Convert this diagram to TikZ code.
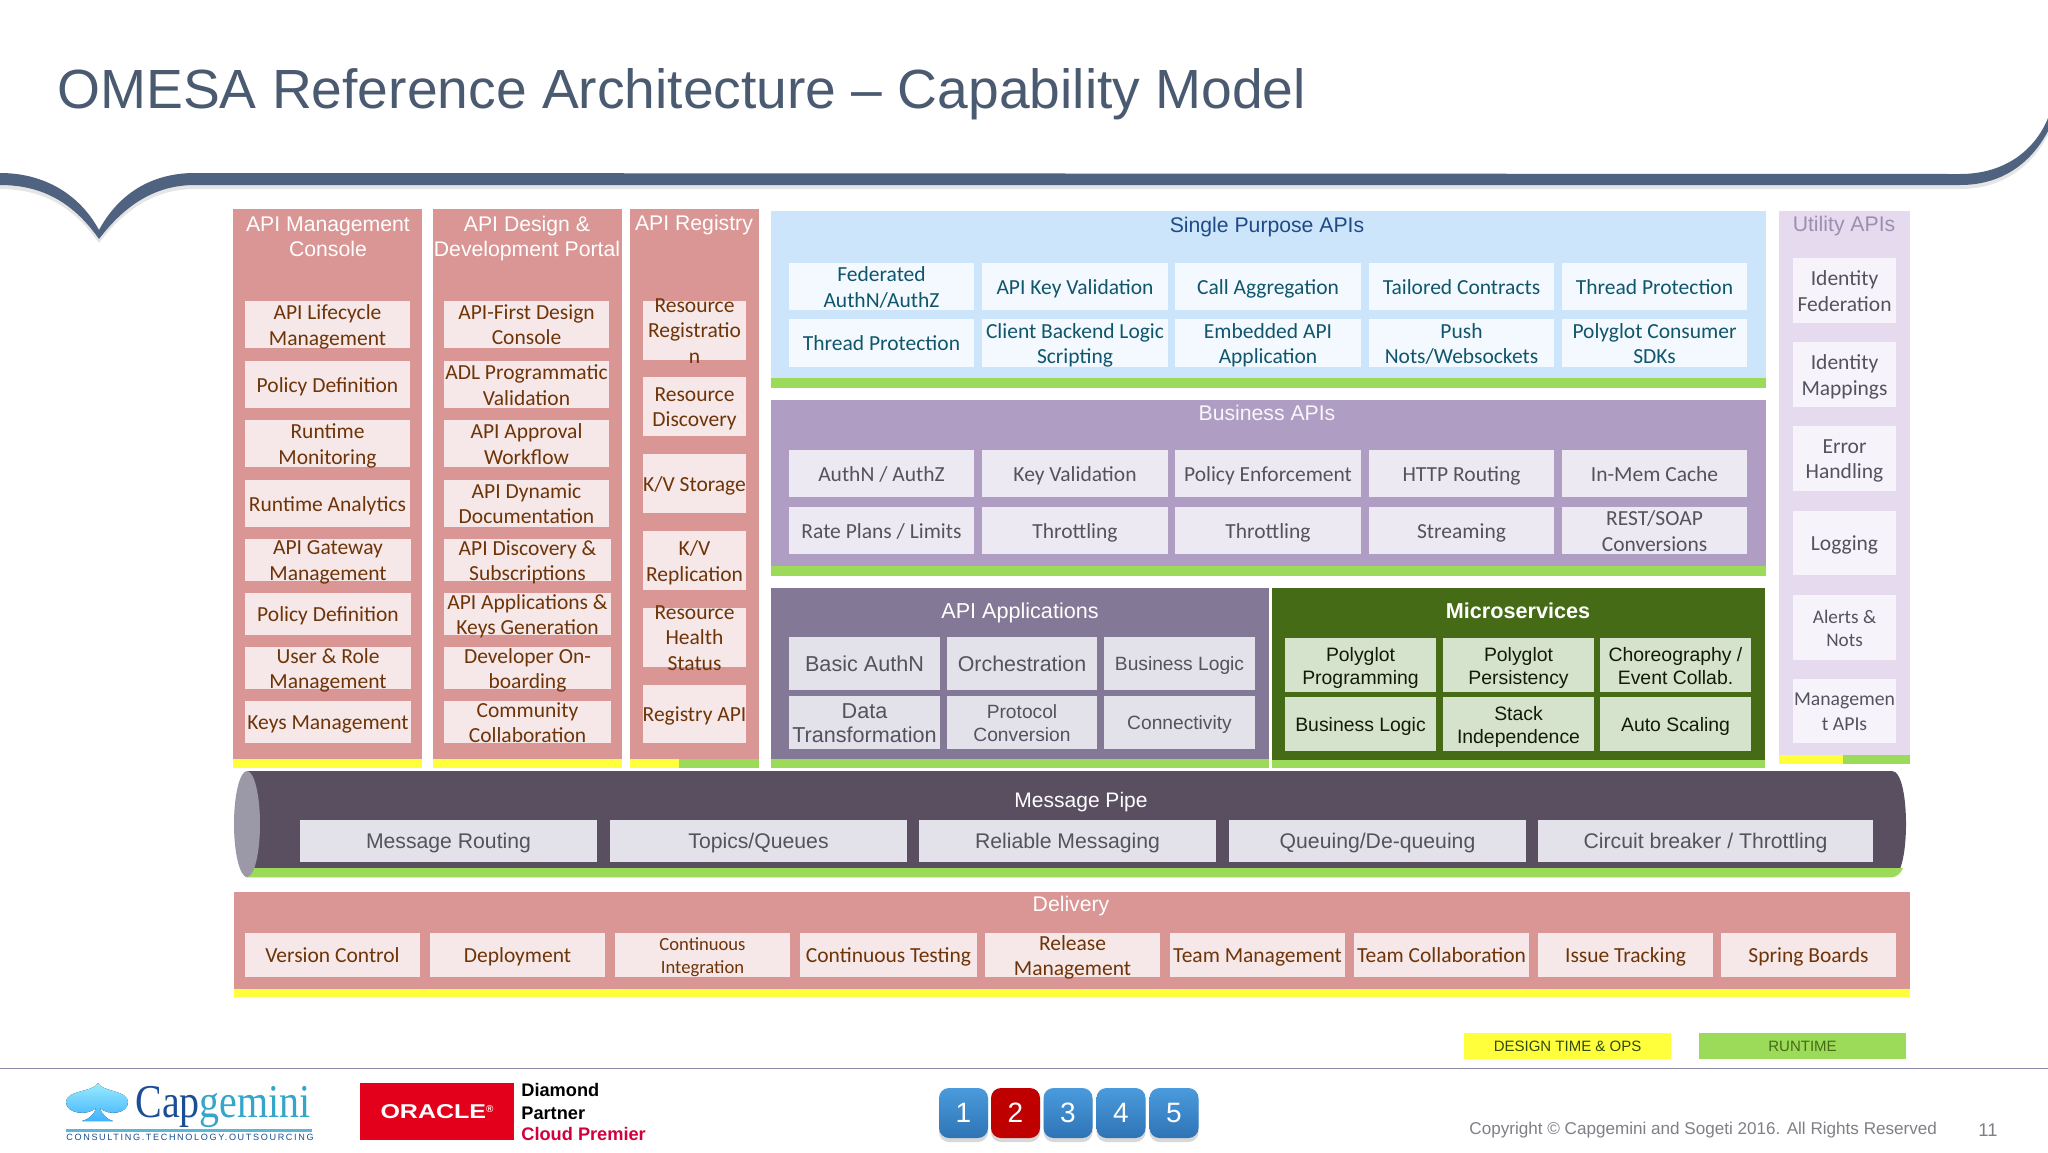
\documentclass[tikz,border=0pt]{standalone}
\usepackage{fontspec}
\setmainfont{Liberation Sans}
\newfontfamily\calfont{Carlito}
\newfontfamily\logoserif{Liberation Serif}
\newfontfamily\logospaced[LetterSpace=18]{Liberation Sans}
\usetikzlibrary{shadows}
\usepackage{xcolor}
\definecolor{omesaslate}{HTML}{4A5A70}
\definecolor{omesaswoosh}{HTML}{4F6280}
\definecolor{omesapink}{HTML}{D99694}
\definecolor{omesapinkcell}{HTML}{F6E8E8}
\definecolor{omesabrown}{HTML}{6E3408}
\definecolor{omesayellow}{HTML}{FFFF3C}
\definecolor{omesagreen}{HTML}{9CDA5A}
\definecolor{omesasky}{HTML}{CDE5FB}
\definecolor{omesaskycell}{HTML}{F3F9FE}
\definecolor{omesateal}{HTML}{0F566C}
\definecolor{omesanavy}{HTML}{1F4A86}
\definecolor{omesaviolet}{HTML}{AF9DC4}
\definecolor{omesavioletcell}{HTML}{EDE9F2}
\definecolor{omesaplum}{HTML}{837895}
\definecolor{omesaplumcell}{HTML}{E3E1E9}
\definecolor{omesamoss}{HTML}{466B17}
\definecolor{omesamosscell}{HTML}{D5E2CC}
\definecolor{omesapipe}{HTML}{5A4F61}
\definecolor{omesapipecap}{HTML}{9B99A8}
\definecolor{omesalilac}{HTML}{E6DAEE}
\definecolor{omesalilaccell}{HTML}{F7F3FA}
\definecolor{omesagrey}{HTML}{55525F}
\definecolor{omesapage}{HTML}{7F7F87}
\definecolor{omesarule}{HTML}{8A88A8}
\definecolor{omesacap}{HTML}{1C4E96}
\definecolor{omesagemini}{HTML}{35A5C9}
\definecolor{omesaoracle}{HTML}{E2001A}
\definecolor{omesacloud}{HTML}{D2003C}
\definecolor{omesabuttontop}{HTML}{4A9BDD}
\definecolor{omesabuttonlow}{HTML}{2E74B5}
\tikzset{
  basetext/.style={align=center, inner sep=0pt, yshift=-1.25pt,
    execute at begin node=\strut, execute at end node=\strut},
  morelines/.style={yshift=-0.85pt},
  headtext/.style={basetext, text=white, font=\fontsize{10.6}{12.5}\selectfont},
  calibritext/.style={basetext, font=\calfont\fontsize{10.75}{12.7}\selectfont},
  pinktext/.style={calibritext, text=omesabrown},
  skytext/.style={calibritext, text=omesateal},
  violettext/.style={calibritext, text=omesagrey},
  lilactext/.style={calibritext, text=omesagrey},
  plumtext/.style={basetext, text=omesagrey, font=\fontsize{9.6}{11.7}\selectfont},
  mosstext/.style={basetext, text=black!75!omesamoss, font=\fontsize{9.7}{11.7}\selectfont},
  pipetext/.style={basetext, text=omesagrey, font=\fontsize{10.6}{13}\selectfont},
  legendtext/.style={basetext, yshift=0.5pt, font=\fontsize{7.5}{9}\selectfont},
  pagetext/.style={basetext, text=omesapage, font=\fontsize{8.55}{11}\selectfont},
  partnertext/.style={inner sep=0pt, anchor=west, font=\bfseries\fontsize{9.1}{11}\selectfont},
  numberbutton/.style={rounded corners=5pt, minimum width=24.5pt, minimum height=25pt, inner sep=0pt,
    text=white, font=\fontsize{14}{16}\selectfont,
    drop shadow={opacity=0.3, shadow xshift=0pt, shadow yshift=-2pt}},
  bluebutton/.style={numberbutton, top color=omesabuttontop, bottom color=omesabuttonlow},
  redbutton/.style={numberbutton, fill=red!75!black},
}

\begin{document}
\begin{tikzpicture}[x=0.5pt,y=-0.5pt]
  \useasboundingbox (0,0) rectangle (2048,1152);
  \fill[white] (0,0) rectangle (2048,1152);

  \node[text=omesaslate, anchor=west, inner sep=0pt, font=\fontsize{27.6}{32}\selectfont] (title) at (57,94) {OMESA Reference Architecture – Capability Model};

  % Swoosh under the title
  \fill[black, opacity=0.1, yshift=-2pt]
    (0,173) .. controls (45,173) and (80,195) .. (99,230)
    .. controls (118,195) and (150,173) .. (195,173) -- (1960,174)
    .. controls (2005,174) and (2035,150) .. (2048,118) -- (2048,131)
    .. controls (2030,165) and (2000,185) .. (1960,185) -- (195,185)
    .. controls (155,185) and (125,205) .. (99,239)
    .. controls (75,205) and (45,185) .. (0,185) -- cycle;
  \fill[omesaswoosh]
    (0,173) .. controls (45,173) and (80,195) .. (99,230)
    .. controls (118,195) and (150,173) .. (195,173) -- (1960,174)
    .. controls (2005,174) and (2035,150) .. (2048,118) -- (2048,131)
    .. controls (2030,165) and (2000,185) .. (1960,185) -- (195,185)
    .. controls (155,185) and (125,205) .. (99,239)
    .. controls (75,205) and (45,185) .. (0,185) -- cycle;

  % API Management Console
  \fill[omesapink] (233,209) rectangle (422,759);
  \fill[omesayellow] (233,759) rectangle (422,768);
  \node[headtext, morelines] (mgmthead) at (328,236) {API Management\\Console};
  \fill[omesapinkcell] (245,301) rectangle (410,348) node[midway, pinktext, morelines] (lifecycle) {API Lifecycle\\Management};
  \fill[omesapinkcell] (245,361) rectangle (410,408) node[midway, pinktext] (policydefa) {Policy Definition};
  \fill[omesapinkcell] (245,420) rectangle (410,467) node[midway, pinktext, morelines] (monitoring) {Runtime\\Monitoring};
  \fill[omesapinkcell] (245,480) rectangle (410,527) node[midway, pinktext] (analytics) {Runtime Analytics};
  \fill[omesapinkcell] (245,539) rectangle (411,581) node[midway, pinktext, morelines] (gateway) {API Gateway\\Management};
  \fill[omesapinkcell] (245,593) rectangle (411,635) node[midway, pinktext] (policydefb) {Policy Definition};
  \fill[omesapinkcell] (245,647) rectangle (411,689) node[midway, pinktext, morelines] (userrole) {User \& Role\\Management};
  \fill[omesapinkcell] (245,701) rectangle (411,743) node[midway, pinktext] (keysmgmt) {Keys Management};

  % API Design & Development Portal
  \fill[omesapink] (433,209) rectangle (622,759);
  \fill[omesayellow] (433,759) rectangle (622,768);
  \node[headtext, morelines] (designhead) at (527,236) {API Design \&\\Development Portal};
  \fill[omesapinkcell] (444,301) rectangle (609,348) node[midway, pinktext, morelines] (firstdesign) {API-First Design\\Console};
  \fill[omesapinkcell] (444,361) rectangle (609,408) node[midway, pinktext, morelines] (adlvalid) {ADL Programmatic\\Validation};
  \fill[omesapinkcell] (444,420) rectangle (609,467) node[midway, pinktext, morelines] (approval) {API Approval\\Workflow};
  \fill[omesapinkcell] (444,480) rectangle (609,527) node[midway, pinktext, morelines] (dyndoc) {API Dynamic\\Documentation};
  \fill[omesapinkcell] (444,539) rectangle (611,581) node[midway, pinktext, morelines] (discovery) {API Discovery \&\\Subscriptions};
  \fill[omesapinkcell] (444,593) rectangle (611,635) node[midway, pinktext, morelines] (appkeys) {API Applications \&\\Keys Generation};
  \fill[omesapinkcell] (444,647) rectangle (611,689) node[midway, pinktext, morelines] (onboarding) {Developer On-\\boarding};
  \fill[omesapinkcell] (444,701) rectangle (611,743) node[midway, pinktext, morelines] (community) {Community\\Collaboration};

  % API Registry
  \fill[omesapink] (630,209) rectangle (759,759);
  \fill[omesayellow] (630,759) rectangle (679,768);
  \fill[omesagreen] (679,759) rectangle (759,768);
  \node[headtext] (registryhead) at (694,223) {API Registry};
  \fill[omesapinkcell] (643,301) rectangle (746,360) node[midway, pinktext, morelines] (resreg) {Resource\\Registratio\\n};
  \fill[omesapinkcell] (643,377) rectangle (746,436) node[midway, pinktext, morelines] (resdisc) {Resource\\Discovery};
  \fill[omesapinkcell] (643,454) rectangle (746,513) node[midway, pinktext] (kvstore) {K/V Storage};
  \fill[omesapinkcell] (643,531) rectangle (746,590) node[midway, pinktext, morelines] (kvrepl) {K/V\\Replication};
  \fill[omesapinkcell] (643,608) rectangle (746,667) node[midway, pinktext, morelines] (health) {Resource\\Health\\Status};
  \fill[omesapinkcell] (643,685) rectangle (746,743) node[midway, pinktext] (regapi) {Registry API};

  % Single Purpose APIs
  \fill[omesasky] (771,211) rectangle (1766,378);
  \fill[omesagreen] (771,378) rectangle (1766,388);
  \node[headtext, text=omesanavy] (singlehead) at (1267,225) {Single Purpose APIs};
  \fill[omesaskycell] (789,263) rectangle (974,310) node[midway, skytext, morelines] (federated) {Federated\\AuthN/AuthZ};
  \fill[omesaskycell] (982,263) rectangle (1168,310) node[midway, skytext] (keyvalid) {API Key Validation};
  \fill[omesaskycell] (1175,263) rectangle (1361,310) node[midway, skytext] (callagg) {Call Aggregation};
  \fill[omesaskycell] (1369,263) rectangle (1554,310) node[midway, skytext] (tailored) {Tailored Contracts};
  \fill[omesaskycell] (1562,263) rectangle (1747,310) node[midway, skytext] (threada) {Thread Protection};
  \fill[omesaskycell] (789,319) rectangle (974,367) node[midway, skytext] (threadb) {Thread Protection};
  \fill[omesaskycell] (982,319) rectangle (1168,367) node[midway, skytext, morelines] (clientlogic) {Client Backend Logic\\Scripting};
  \fill[omesaskycell] (1175,319) rectangle (1361,367) node[midway, skytext, morelines] (embedded) {Embedded API\\Application};
  \fill[omesaskycell] (1369,319) rectangle (1554,367) node[midway, skytext, morelines] (pushnots) {Push\\Nots/Websockets};
  \fill[omesaskycell] (1562,319) rectangle (1747,367) node[midway, skytext, morelines] (sdks) {Polyglot Consumer\\SDKs};

  % Business APIs
  \fill[omesaviolet] (771,400) rectangle (1766,566);
  \fill[omesagreen] (771,566) rectangle (1766,576);
  \node[headtext, text=white!92!omesaviolet] (businesshead) at (1267,413) {Business APIs};
  \fill[omesavioletcell] (789,450) rectangle (974,497) node[midway, violettext] (authn) {AuthN / AuthZ};
  \fill[omesavioletcell] (982,450) rectangle (1168,497) node[midway, violettext] (keyval) {Key Validation};
  \fill[omesavioletcell] (1175,450) rectangle (1361,497) node[midway, violettext] (policyenf) {Policy Enforcement};
  \fill[omesavioletcell] (1369,450) rectangle (1554,497) node[midway, violettext] (httprout) {HTTP Routing};
  \fill[omesavioletcell] (1562,450) rectangle (1747,497) node[midway, violettext] (inmem) {In-Mem Cache};
  \fill[omesavioletcell] (789,507) rectangle (974,554) node[midway, violettext] (rateplans) {Rate Plans / Limits};
  \fill[omesavioletcell] (982,507) rectangle (1168,554) node[midway, violettext] (throttlea) {Throttling};
  \fill[omesavioletcell] (1175,507) rectangle (1361,554) node[midway, violettext] (throttleb) {Throttling};
  \fill[omesavioletcell] (1369,507) rectangle (1554,554) node[midway, violettext] (streaming) {Streaming};
  \fill[omesavioletcell] (1562,507) rectangle (1747,554) node[midway, violettext, morelines] (restsoap) {REST/SOAP\\Conversions};

  % API Applications
  \fill[omesaplum] (771,588) rectangle (1269,759);
  \fill[omesagreen] (771,759) rectangle (1269,768);
  \node[headtext, font=\fontsize{10.8}{13}\selectfont] (appshead) at (1020,611) {API Applications};
  \fill[omesaplumcell] (789,637) rectangle (940,690) node[midway, plumtext, font=\fontsize{10.8}{13}\selectfont] (basicauth) {Basic AuthN};
  \fill[omesaplumcell] (947,637) rectangle (1097,690) node[midway, plumtext, font=\fontsize{10.7}{13}\selectfont] (orchestr) {Orchestration};
  \fill[omesaplumcell] (1104,637) rectangle (1255,690) node[midway, plumtext] (bizlogica) {Business Logic};
  \fill[omesaplumcell] (789,696) rectangle (940,749) node[midway, plumtext, morelines, font=\fontsize{10.8}{12.2}\selectfont] (datatrans) {Data\\Transformation};
  \fill[omesaplumcell] (947,696) rectangle (1097,749) node[midway, plumtext, morelines] (protocol) {Protocol\\Conversion};
  \fill[omesaplumcell] (1104,696) rectangle (1255,749) node[midway, plumtext] (connect) {Connectivity};

  % Microservices
  \fill[omesamoss] (1272,588) rectangle (1765,760);
  \fill[omesagreen] (1272,760) rectangle (1765,768);
  \node[headtext, font=\bfseries\fontsize{10.8}{13}\selectfont] (microhead) at (1518,611) {Microservices};
  \fill[omesamosscell] (1285,638) rectangle (1436,692) node[midway, mosstext, morelines] (polyprog) {Polyglot\\Programming};
  \fill[omesamosscell] (1443,638) rectangle (1594,692) node[midway, mosstext, morelines] (polypers) {Polyglot\\Persistency};
  \fill[omesamosscell] (1600,638) rectangle (1751,692) node[midway, mosstext, morelines] (choreo) {Choreography /\\Event Collab.};
  \fill[omesamosscell] (1285,697) rectangle (1436,751) node[midway, mosstext] (bizlogicb) {Business Logic};
  \fill[omesamosscell] (1443,697) rectangle (1594,751) node[midway, mosstext, morelines] (stackind) {Stack\\Independence};
  \fill[omesamosscell] (1600,697) rectangle (1751,751) node[midway, mosstext] (autoscale) {Auto Scaling};

  % Utility APIs
  \fill[omesalilac] (1779,211) rectangle (1910,755);
  \fill[omesayellow] (1779,755) rectangle (1843,764);
  \fill[omesagreen] (1843,755) rectangle (1910,764);
  \node[headtext, text=omesaviolet!80!omesagrey] (utilityhead) at (1844,224) {Utility APIs};
  \fill[omesalilaccell] (1793,258) rectangle (1896,323) node[midway, lilactext, morelines] (idfed) {Identity\\Federation};
  \fill[omesalilaccell] (1793,342) rectangle (1896,407) node[midway, lilactext, morelines] (idmap) {Identity\\Mappings};
  \fill[omesalilaccell] (1793,426) rectangle (1896,491) node[midway, lilactext, morelines] (errors) {Error\\Handling};
  \fill[omesalilaccell] (1793,511) rectangle (1896,575) node[midway, lilactext] (logging) {Logging};
  \fill[omesalilaccell] (1793,595) rectangle (1896,660) node[midway, lilactext, morelines, font=\calfont\fontsize{9.6}{11.6}\selectfont] (alerts) {Alerts \&\\Nots};
  \fill[omesalilaccell] (1793,679) rectangle (1896,743) node[midway, lilactext, morelines, font=\calfont\fontsize{9.85}{12.6}\selectfont] (mgmtapis) {Managemen\\t APIs};

  % Message Pipe
  \fill[omesapipe] (247,771) -- (1892,771) .. controls (1902,771) and (1906,800) .. (1906,824)
    .. controls (1906,848) and (1902,877) .. (1892,877) -- (247,877) -- cycle;
  \fill[omesagreen] (245,868) -- (1903,868) .. controls (1901,873) and (1897,877) .. (1892,877) -- (245,877) -- cycle;
  \fill[omesapipecap] (247,824) ellipse [x radius=13, y radius=53];
  \node[headtext, font=\fontsize{10.5}{13}\selectfont] (pipehead) at (1081,800) {Message Pipe};
  \fill[omesaplumcell] (300,820) rectangle (597,862) node[midway, pipetext] (msgrouting) {Message Routing};
  \fill[omesaplumcell] (610,820) rectangle (907,862) node[midway, pipetext] (topics) {Topics/Queues};
  \fill[omesaplumcell] (919,820) rectangle (1216,862) node[midway, pipetext] (reliable) {Reliable Messaging};
  \fill[omesaplumcell] (1229,820) rectangle (1526,862) node[midway, pipetext] (queuing) {Queuing/De-queuing};
  \fill[omesaplumcell] (1538,820) rectangle (1873,862) node[midway, pipetext] (circuit) {Circuit breaker / Throttling};

  % Delivery
  \fill[omesapink] (234,892) rectangle (1910,989);
  \fill[omesayellow] (234,989) rectangle (1910,997);
  \node[headtext] (deliveryhead) at (1071,904) {Delivery};
  \fill[omesapinkcell] (245,933) rectangle (420,977) node[midway, pinktext] (version) {Version Control};
  \fill[omesapinkcell] (430,933) rectangle (605,977) node[midway, pinktext] (deploy) {Deployment};
  \fill[omesapinkcell] (615,933) rectangle (790,977) node[midway, pinktext, morelines, font=\calfont\fontsize{9.3}{11.7}\selectfont] (contint) {Continuous\\Integration};
  \fill[omesapinkcell] (800,933) rectangle (977,977) node[midway, pinktext] (conttest) {Continuous Testing};
  \fill[omesapinkcell] (985,933) rectangle (1160,977) node[midway, pinktext, morelines] (release) {Release\\Management};
  \fill[omesapinkcell] (1170,933) rectangle (1345,977) node[midway, pinktext] (teammgmt) {Team Management};
  \fill[omesapinkcell] (1354,933) rectangle (1529,977) node[midway, pinktext] (teamcollab) {Team Collaboration};
  \fill[omesapinkcell] (1538,933) rectangle (1713,977) node[midway, pinktext] (issues) {Issue Tracking};
  \fill[omesapinkcell] (1721,933) rectangle (1896,977) node[midway, pinktext] (spring) {Spring Boards};

  % Legend
  \fill[omesayellow] (1464,1033) rectangle (1671,1059) node[midway, legendtext, text=omesamoss!70!black] (designtime) {DESIGN TIME \& OPS};
  \fill[omesagreen] (1699,1033) rectangle (1906,1059) node[midway, legendtext, text=omesamoss] (runtime) {RUNTIME};

  % Footer
  \draw[line width=0.8pt, omesarule] (0,1068.5) -- (2048,1068.5);

  % Capgemini logo
  \fill[top color=cyan!25!omesasky, bottom color=cyan!60!blue!75!white]
    (98,1083) .. controls (102,1092) and (128,1090) .. (128,1102)
    .. controls (128,1114) and (108,1116) .. (100,1108)
    .. controls (101,1114) and (108,1120) .. (113,1121) -- (82,1121)
    .. controls (88,1120) and (95,1114) .. (96,1108)
    .. controls (88,1116) and (66,1114) .. (66,1102)
    .. controls (66,1090) and (94,1092) .. (98,1083) -- cycle;
  \node[anchor=base west, inner sep=0pt, font=\logoserif\fontsize{23.5}{26}\selectfont] (capgemini) at (135,1117)
    {\scalebox{0.85}[1]{\textcolor{omesacap}{Cap}\textcolor{omesagemini}{gemini}}};
  \fill[omesagemini!80] (66,1129) rectangle (312,1131.5);
  \node[anchor=west, inner sep=0pt, text=omesacap!80!omesateal, font=\logospaced\fontsize{4.55}{7}\selectfont] (capline) at (66,1137) {CONSULTING.TECHNOLOGY.OUTSOURCING};

  % Oracle badge
  \fill[omesaoracle] (360,1083) rectangle (514,1140);
  \node[text=white, inner sep=0pt, font=\bfseries\fontsize{10}{12}\selectfont] (oracle) at (437,1112) {\scalebox{1.25}[1]{ORACLE}\raisebox{3pt}{\tiny®}};
  \node[partnertext] (diamond) at (521,1090) {Diamond};
  \node[partnertext] (partner) at (521,1113) {Partner};
  \node[partnertext, text=omesacloud] (cloud) at (521,1134) {Cloud Premier};

  % Number buttons
  \node[bluebutton] (btnone) at (963.5,1113) {1};
  \node[redbutton] (btntwo) at (1015.5,1113) {2};
  \node[bluebutton] (btnthree) at (1068,1113) {3};
  \node[bluebutton] (btnfour) at (1121,1113) {4};
  \node[bluebutton] (btnfive) at (1174,1113) {5};

  \node[pagetext, anchor=west] (copyright) at (1469,1128) {Copyright © Capgemini and Sogeti 2016. All Rights Reserved};
  \node[pagetext, font=\fontsize{9.2}{11}\selectfont] (pagenum) at (1988,1130) {11};
\end{tikzpicture}
\end{document}
